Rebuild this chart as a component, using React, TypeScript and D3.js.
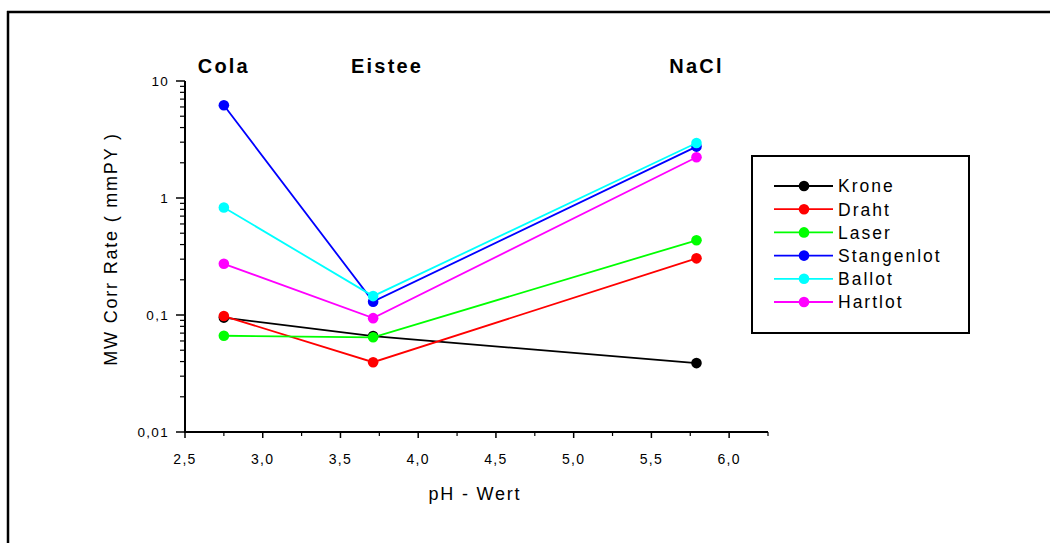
import React from 'react'
import * as d3 from 'd3'

// pH of each medium
const media = ['Cola', 'Eistee', 'NaCl']
const phValues = [2.75, 3.71, 5.79]

const seriesNames = ['Krone', 'Draht', 'Laser', 'Stangenlot', 'Ballot', 'Hartlot']
const seriesColors = ['#000000', '#ff0000', '#00ff00', '#0000ff', '#00ffff', '#ff00ff']

const krone = [0.095, 0.066, 0.0388]
const draht = [0.098, 0.0395, 0.305]
const laser = [0.0665, 0.0645, 0.435]
const stangenlot = [6.2, 0.13, 2.75]
const ballot = [0.83, 0.145, 2.95]
const hartlot = [0.274, 0.094, 2.23]

const xTicks = [2.5, 3.0, 3.5, 4.0, 4.5, 5.0, 5.5, 6.0]
const yTicks = [0.01, 0.1, 1, 10]

const font = '"Liberation Sans", Arial, sans-serif'
const locale = d3.formatLocale({ decimal: ',', thousands: '.', grouping: [3], currency: ['', '€'] })
const fmtX = locale.format('.1f')
const fmtY = (v: number) => String(v).replace('.', ',')

export default function App() {
  const W = 1050, H = 543
  const x = d3.scaleLinear().domain([2.5, 6.25]).range([185, 768])
  const y = d3.scaleLog().domain([0.01, 10]).range([432, 81])

  const allSeries = [krone, draht, laser, stangenlot, ballot, hartlot]
  const line = d3.line<number>()
    .x((_, i) => x(phValues[i]))
    .y(d => y(d))

  const xMinor = d3.range(2.75, 6.26, 0.5)
  const yMinor: number[] = []
  for (let k = -2; k < 1; k++) for (let m = 2; m <= 9; m++) yMinor.push(m * Math.pow(10, k))

  const labelDx = [0, 14, 0]

  const lgX = 752, lgY = 156, lgW = 217, lgH = 177
  const rowY = (i: number) => 186 + i * 23.2

  return (
    <svg width={W} height={H} style={{ position: 'absolute', left: 0, top: 0, background: '#fff' }}>
      {/* frame */}
      <line x1={7} x2={W} y1={12} y2={12} stroke="#000" strokeWidth={2.5} />
      <line x1={8} x2={8} y1={11} y2={H} stroke="#000" strokeWidth={2.5} />

      {/* medium labels */}
      {media.map((m, i) => (
        <text key={m} x={x(phValues[i]) + labelDx[i]} y={73} textAnchor="middle"
          fontFamily={font} fontWeight="bold" fontSize={20} letterSpacing={2.2}>{m}</text>
      ))}

      {/* y axis */}
      <line x1={185} x2={185} y1={y(10)} y2={y(0.01) + 1} stroke="#000" strokeWidth={2} />
      {yTicks.map(t => (
        <g key={t}>
          <line x1={176} x2={185} y1={y(t)} y2={y(t)} stroke="#000" strokeWidth={1.5} />
          <text x={169} y={y(t)} dy="0.35em" textAnchor="end" fontFamily={font} fontSize={13.5} letterSpacing={1.3}>{fmtY(t)}</text>
        </g>
      ))}
      {yMinor.map(t => (
        <line key={t} x1={180} x2={185} y1={y(t)} y2={y(t)} stroke="#000" strokeWidth={1.2} />
      ))}
      <text transform={`translate(117,${249}) rotate(-90)`} textAnchor="middle"
        fontFamily={font} fontSize={18} letterSpacing={1.8}>MW Corr Rate ( mmPY )</text>

      {/* x axis */}
      <line x1={184} x2={768} y1={432} y2={432} stroke="#000" strokeWidth={2} />
      {xTicks.map(t => (
        <g key={t}>
          <line x1={x(t)} x2={x(t)} y1={432} y2={438} stroke="#000" strokeWidth={1.5} />
          <text x={x(t)} y={464} textAnchor="middle" fontFamily={font} fontSize={14} letterSpacing={1.3}>{fmtX(t)}</text>
        </g>
      ))}
      {xMinor.map(t => (
        <line key={t} x1={x(t)} x2={x(t)} y1={432} y2={436} stroke="#000" strokeWidth={1.2} />
      ))}
      <text x={475} y={500} textAnchor="middle" fontFamily={font} fontSize={18} letterSpacing={1.8}>pH - Wert</text>

      {/* series */}
      {allSeries.map((s, si) => (
        <g key={seriesNames[si]}>
          <path d={line(s) || ''} fill="none" stroke={seriesColors[si]} strokeWidth={1.8} />
          {s.map((v, i) => (
            <circle key={i} cx={x(phValues[i])} cy={y(v)} r={5.3} fill={seriesColors[si]} />
          ))}
        </g>
      ))}

      {/* legend */}
      <rect x={lgX} y={lgY} width={lgW} height={lgH} fill="#fff" stroke="#000" strokeWidth={2} />
      {seriesNames.map((n, i) => (
        <g key={n}>
          <line x1={774} x2={833} y1={rowY(i)} y2={rowY(i)} stroke={seriesColors[i]} strokeWidth={1.8} />
          <circle cx={804} cy={rowY(i)} r={5.3} fill={seriesColors[i]} />
          <text x={838} y={rowY(i)} dy="0.36em" fontFamily={font} fontSize={17.5} letterSpacing={2}>{n}</text>
        </g>
      ))}
    </svg>
  )
}
